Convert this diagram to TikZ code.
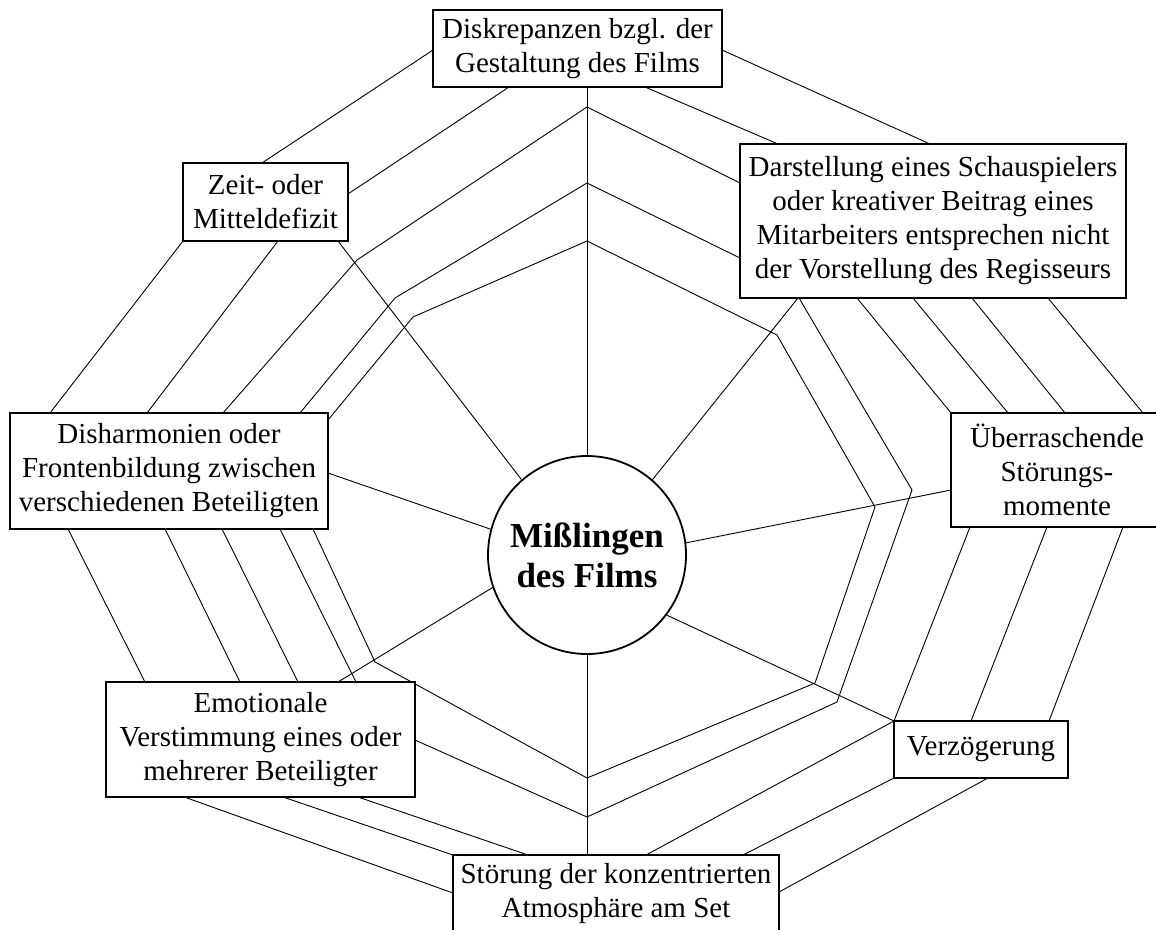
\documentclass[tikz,border=0pt]{standalone}
\usepackage{fontspec}
\setmainfont{Liberation Serif}
\usetikzlibrary{backgrounds}
\begin{document}
\begin{tikzpicture}[x=1pt,y=-1pt,
  box/.style={draw, line width=1.4pt, fill=white, align=center, inner sep=0pt,
    font=\fontsize{29}{34}\selectfont},
  web/.style={line width=0.9pt, line join=miter},
  hub/.style={circle, draw, line width=1.8pt, fill=white, minimum size=198pt,
    inner sep=0pt, align=center, font=\fontsize{35}{40}\selectfont\bfseries}]
\useasboundingbox (0,0) rectangle (1156,929);

% boxes
\node[box, minimum width=289pt, minimum height=77pt] (disk) at (577.5,48.5)
  {Diskrepanzen bzgl. der\\Gestaltung des Films};
\node[box, minimum width=165pt, minimum height=78pt] (zeit) at (265.5,202)
  {Zeit- oder\\Mitteldefizit};
\node[box, minimum width=386pt, minimum height=154pt] (darst) at (933,221)
  {Darstellung eines Schauspielers\\oder kreativer Beitrag eines\\Mitarbeiters entsprechen nicht\\der Vorstellung des Regisseurs};
\node[box, minimum width=212pt, minimum height=114pt] (ueber) at (1057,470)
  {Überraschende\\Störungs-\\momente};
\node[box, minimum width=318pt, minimum height=116pt] (dish) at (169,471)
  {Disharmonien oder\\Frontenbildung zwischen\\verschiedenen Beteiligten};
\node[box, minimum width=309pt, minimum height=115pt] (emo) at (260.5,739.5)
  {Emotionale\\Verstimmung eines oder\\mehrerer Beteiligter};
\node[box, minimum width=174pt, minimum height=57pt] (verz) at (981,749.5)
  {Verzögerung};
\node[box, minimum width=326pt, minimum height=77pt] (stoer) at (616,893.5)
  {Störung der konzentrierten\\Atmosphäre am Set};
\node[hub] (c) at (587,555) {Mißlingen\\des Films};

% ring 1
\coordinate (r1a) at (433,50);  \coordinate (r1b) at (262,163);
\coordinate (r1c) at (183,241); \coordinate (r1d) at (50,413);
\coordinate (r1e) at (68,529);  \coordinate (r1f) at (145,682);
\coordinate (r1g) at (187,798); \coordinate (r1h) at (453,893);
\coordinate (r1i) at (779,892); \coordinate (r1j) at (988,778);
\coordinate (r1k) at (1049,721);\coordinate (r1l) at (1123,527);
\coordinate (r1m) at (1065,413);\coordinate (r1n) at (972,298);
\coordinate (r1o) at (930,144); \coordinate (r1p) at (722,50);
% ring 2
\coordinate (r2a) at (509,87);  \coordinate (r2b) at (348,194);
\coordinate (r2c) at (278,241); \coordinate (r2d) at (147,413);
\coordinate (r2e) at (165,529); \coordinate (r2f) at (240,682);
\coordinate (r2g) at (283,797); \coordinate (r2h) at (453,855);
\coordinate (r2i) at (743,855); \coordinate (r2j) at (894,778);
\coordinate (r2k) at (971,721); \coordinate (r2l) at (1047,527);
\coordinate (r2m) at (1008,413);\coordinate (r2n) at (913,298);
\coordinate (r2o) at (778,144); \coordinate (r2p) at (645,87);
% ring 3
\coordinate (r3a) at (587,107); \coordinate (r3b) at (357,260);
\coordinate (r3c) at (223,413); \coordinate (r3d) at (222,529);
\coordinate (r3e) at (298,682); \coordinate (r3f) at (358,797);
\coordinate (r3g) at (528,855); \coordinate (r3h) at (646,855);
\coordinate (r3i) at (894,721); \coordinate (r3j) at (970,527);
\coordinate (r3k) at (951,413); \coordinate (r3l) at (857,298);
\coordinate (r3m) at (740,183);
% ring 4
\coordinate (r4a) at (587,183); \coordinate (r4b) at (395,298);
\coordinate (r4c) at (300,413); \coordinate (r4d) at (280,529);
\coordinate (r4e) at (356,682); \coordinate (r4f) at (415,740);
\coordinate (r4g) at (587,817); \coordinate (r4h) at (837,702);
\coordinate (r4i) at (912,490); \coordinate (r4j) at (799,298);
\coordinate (r4k) at (740,258);
% ring 5
\coordinate (r5a) at (587,241); \coordinate (r5b) at (413,317);
\coordinate (r5c) at (328,420); \coordinate (r5d) at (313,529);
\coordinate (r5e) at (375,662); \coordinate (r5f) at (587,778);
\coordinate (r5g) at (815,683); \coordinate (r5h) at (875,507);
\coordinate (r5i) at (777,335);
% extra fragment
\coordinate (x1) at (1048,298); \coordinate (x2) at (1143,413);
% spoke ends on boxes
\coordinate (s1) at (587,87);   \coordinate (s2) at (798,298);
\coordinate (s3) at (951,490);  \coordinate (s4) at (894,721);
\coordinate (s5) at (587,855);  \coordinate (s6) at (338,682);
\coordinate (s7) at (328,473);  \coordinate (s8) at (338,241);

\begin{scope}[on background layer]
\fill[white] (0,0) rectangle (1156,929);
\draw[web] (r1a) -- (r1b) -- (r1c) -- (r1d) -- (r1e) -- (r1f) -- (r1g) -- (r1h)
  -- (r1i) -- (r1j) -- (r1k) -- (r1l) -- (r1m) -- (r1n) -- (r1o) -- (r1p) -- cycle;
\draw[web] (r2a) -- (r2b) -- (r2c) -- (r2d) -- (r2e) -- (r2f) -- (r2g) -- (r2h)
  -- (r2i) -- (r2j) -- (r2k) -- (r2l) -- (r2m) -- (r2n) -- (r2o) -- (r2p) -- cycle;
\draw[web] (r3a) -- (r3b) -- (r3c) -- (r3d) -- (r3e) -- (r3f) -- (r3g) -- (r3h)
  -- (r3i) -- (r3j) -- (r3k) -- (r3l) -- (r3m) -- cycle;
\draw[web] (r4a) -- (r4b) -- (r4c) -- (r4d) -- (r4e) -- (r4f) -- (r4g) -- (r4h)
  -- (r4i) -- (r4j) -- (r4k) -- cycle;
\draw[web] (r5a) -- (r5b) -- (r5c) -- (r5d) -- (r5e) -- (r5f) -- (r5g) -- (r5h)
  -- (r5i) -- cycle;
\draw[web] (x1) -- (x2);
% spokes
\draw[web] (c.90) -- (s1);
\draw[web] (c.49) -- (s2);
\draw[web] (c.7) -- (s3);
\draw[web] (c.-37) -- (s4);
\draw[web] (c.-90) -- (s5);
\draw[web] (c.199) -- (s6);
\draw[web] (c.165) -- (s7);
\draw[web] (c.131) -- (s8);
\end{scope}
\end{tikzpicture}
\end{document}
